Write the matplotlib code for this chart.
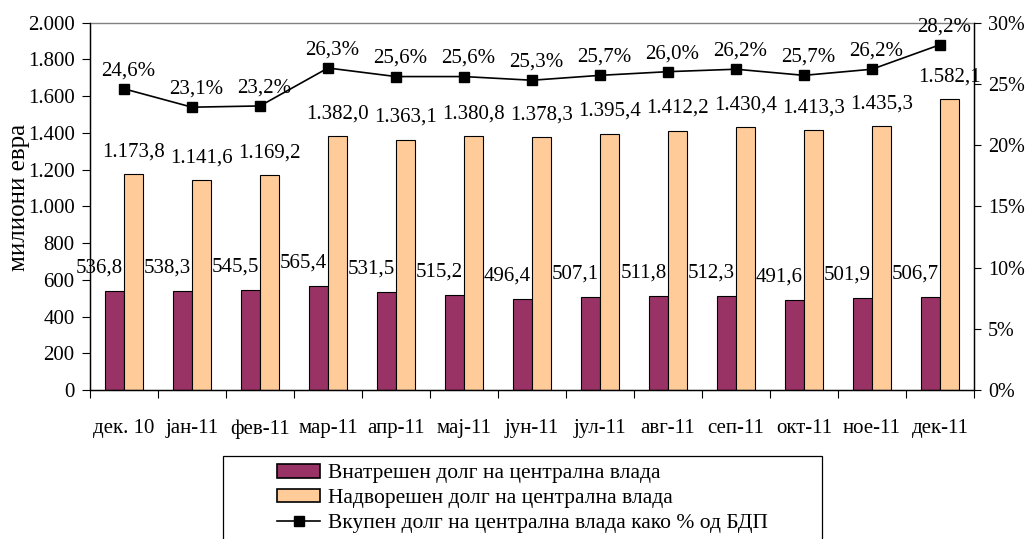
import matplotlib
matplotlib.use("Agg")
import matplotlib.pyplot as plt
from matplotlib.patches import Rectangle
from matplotlib.lines import Line2D
from matplotlib.patches import Patch
import numpy as np

plt.rcParams['font.family'] = ['Liberation Serif', 'DejaVu Serif']

categories = ["дек. 10", "јан-11", "фев-11", "мар-11", "апр-11", "мај-11", "јун-11",
              "јул-11", "авг-11", "сеп-11", "окт-11", "ное-11", "дек-11"]
domestic = [536.8, 538.3, 545.5, 565.4, 531.5, 515.2, 496.4, 507.1, 511.8, 512.3, 491.6, 501.9, 506.7]
external = [1173.8, 1141.6, 1169.2, 1382.0, 1363.1, 1380.8, 1378.3, 1395.4, 1412.2, 1430.4, 1413.3, 1435.3, 1582.1]
pct_gdp = [24.6, 23.1, 23.2, 26.3, 25.6, 25.6, 25.3, 25.7, 26.0, 26.2, 25.7, 26.2, 28.2]

legend_labels = ["Внатрешен долг на централна влада",
                 "Надворешен долг на централна влада",
                 "Вкупен долг на централна влада како % од БДП"]
ylabel = "милиони евра"

c_dom = "#993366"
c_ext = "#FFCC99"
fs = 15
fs_leg = 15.5

def fmt_num(v, dec=1):
    s = f"{v:,.{dec}f}"
    return s.replace(",", "X").replace(".", ",").replace("X", ".")

fig = plt.figure(figsize=(10.25, 5.39), dpi=100)
ax = fig.add_axes([90/1025, 1-390/539, 884/1025, (390-22.7)/539])
x = np.arange(len(categories))
w = 0.285

ax.bar(x - w/2, domestic, w, color=c_dom, edgecolor="black", linewidth=0.8, zorder=2)
ax.bar(x + w/2, external, w, color=c_ext, edgecolor="black", linewidth=0.8, zorder=2)

ax.set_xlim(-0.5, len(categories) - 0.5)
ax.set_ylim(0, 2000)
ax.set_yticks(np.arange(0, 2001, 200))
ax.set_yticklabels([fmt_num(v, 0) for v in np.arange(0, 2001, 200)], fontsize=fs)
ax.tick_params(axis='y', length=6, width=0.8, pad=5, direction='out')

ax.set_xticks(np.arange(-0.5, len(categories), 1))
ax.set_xticklabels([])
ax.tick_params(axis='x', which='major', length=5.5, width=0.8, direction='out')
ax.set_xticks(x, minor=True)
ax.set_xticklabels(categories, minor=True, fontsize=fs)
ax.tick_params(axis='x', which='minor', length=0, pad=21)

for s in ['left', 'bottom', 'right']:
    ax.spines[s].set_color('black')
    ax.spines[s].set_linewidth(0.9)
ax.spines['top'].set_color('#808080')
ax.spines['top'].set_linewidth(1.0)

ax.set_ylabel(ylabel, fontsize=18)
ax.yaxis.set_label_coords(-0.068, 0.525)

for xi, v in zip(x, domestic):
    ax.annotate(fmt_num(v), (xi - 0.02, v), xytext=(0, 16.5), textcoords='offset points',
                ha='right', va='center', fontsize=fs, zorder=3)
for xi, v in zip(x, external):
    ax.annotate(fmt_num(v), (xi + w/2, v), xytext=(0, 16), textcoords='offset points',
                ha='center', va='center', fontsize=fs, zorder=3)

ax2 = ax.twinx()
ax2.set_ylim(0, 0.30)
ax2.set_yticks(np.arange(0, 0.301, 0.05))
ax2.set_yticklabels([f"{int(round(t*100))}%" for t in np.arange(0, 0.301, 0.05)], fontsize=14.5)
ax2.tick_params(axis='y', length=5, width=0.8, pad=5, direction='out')
for s in ['left', 'bottom', 'right']:
    ax2.spines[s].set_color('black')
    ax2.spines[s].set_linewidth(0.9)
ax2.spines['top'].set_visible(False)

pct = [p / 100 for p in pct_gdp]
ax2.plot(x, pct, color='black', linewidth=1.2, marker='s', markersize=6.8, zorder=4)
for xi, p in zip(x, pct_gdp):
    ax2.annotate(fmt_num(p) + "%", (xi, p / 100), xytext=(3, 13), textcoords='offset points',
                 ha='center', va='center', fontsize=fs, zorder=5)

# legend frame
fig.patches.append(Rectangle((223/1025, -6/539), 599/1025, (545-456)/539,
                             transform=fig.transFigure, facecolor='white',
                             edgecolor='black', linewidth=0.9, zorder=0))
handles = [Patch(facecolor=c_dom, edgecolor='black', linewidth=1.2),
           Patch(facecolor=c_ext, edgecolor='black', linewidth=1.2),
           Line2D([], [], color='black', linewidth=1.2, marker='s', markersize=6.8)]
fig.legend(handles, legend_labels, loc='upper left',
           bbox_to_anchor=(277/1025, 1-464/539), bbox_transform=fig.transFigure,
           frameon=False, fontsize=fs_leg, borderpad=0, borderaxespad=0,
           handlelength=2.0, handleheight=0.6, handletextpad=0.35, labelspacing=0.25)

fig.savefig("out.png", dpi=100)
